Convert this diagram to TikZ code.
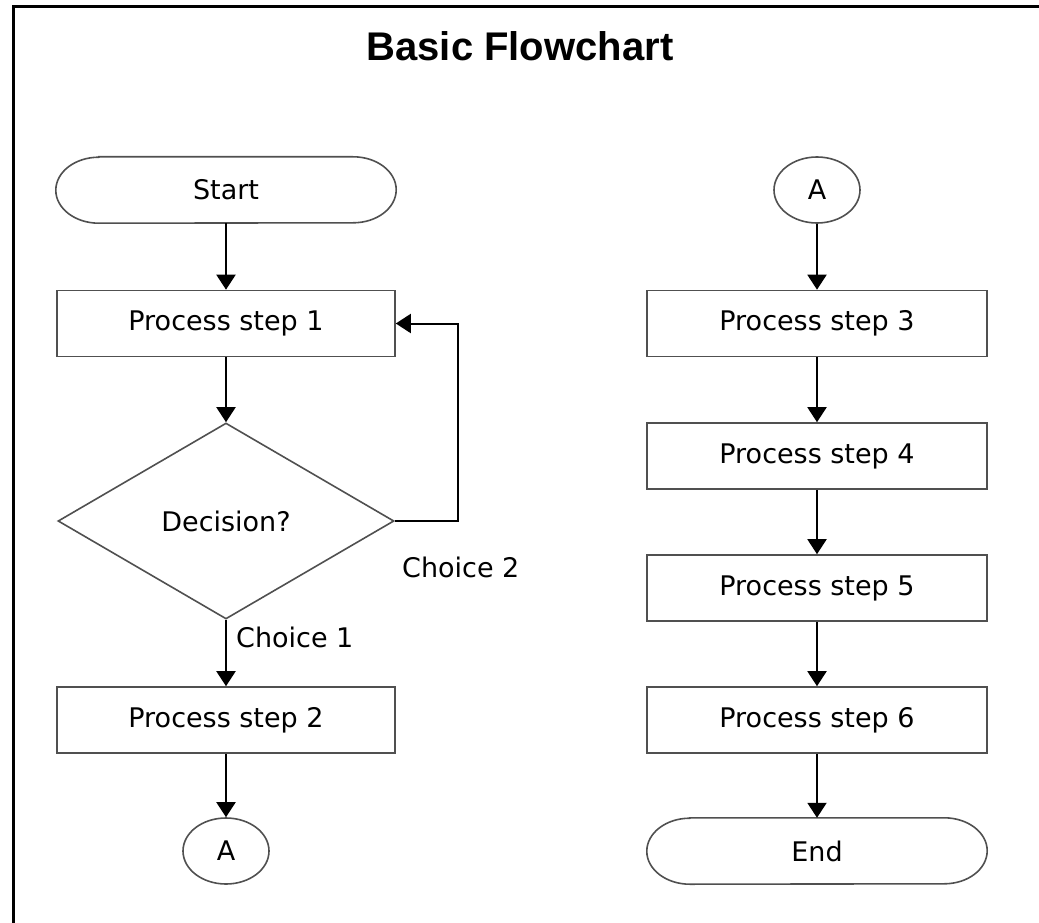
\documentclass[tikz,border=0pt]{standalone}
\usepackage{fontspec}
\setmainfont{DejaVu Sans}
\newfontfamily\titlefont{Liberation Sans}
\usetikzlibrary{shapes.geometric,arrows.meta}

\definecolor{shapegray}{HTML}{505050}

\tikzset{
  txt/.style={font=\fontsize{27}{31}\selectfont, text=black},
  box/.style={txt, draw=shapegray, line width=1.6pt, minimum width=338pt, minimum height=66pt, inner sep=0pt},
  terminal/.style={txt, minimum width=340pt, minimum height=66pt, inner sep=0pt},
  outline/.style={draw=shapegray, line width=1.6pt},
  connector/.style={txt, ellipse, draw=shapegray, line width=1.6pt, minimum width=86pt, minimum height=66pt, inner sep=0pt},
  decision/.style={txt, diamond, draw=shapegray, line width=1.6pt, minimum width=336pt, minimum height=196pt, inner sep=0pt},
  choice/.style={txt, anchor=west, inner sep=0pt},
  flow/.style={line width=2pt, -{Triangle[width=19pt,length=15pt]}}
}

\begin{document}
\begin{tikzpicture}[x=1pt, y=-1pt]
        \useasboundingbox (0, 0) rectangle (1039, 923);
        \draw[line width=3pt] (13, 923) -- (13, 7) -- (1039, 7);

        \node[font=\titlefont\bfseries\fontsize{40}{44}\selectfont] (heading) at (520, 46) {Basic Flowchart};

        \node[terminal] (start) at (226, 190) {Start};
        \node[box] (step1) at (226, 323.5) {Process step 1};
        \node[decision] (decision) at (226, 521) {Decision?};
        \node[box] (step2) at (226, 720) {Process step 2};
        \node[connector] (outA) at (226, 851) {A};

        \node[connector] (inA) at (817, 190) {A};
        \node[box, minimum width=340pt] (step3) at (817, 323.5) {Process step 3};
        \node[box, minimum width=340pt] (step4) at (817, 456) {Process step 4};
        \node[box, minimum width=340pt] (step5) at (817, 588) {Process step 5};
        \node[box, minimum width=340pt] (step6) at (817, 720) {Process step 6};
        \node[terminal] (finish) at (817, 851) {End};

        \node[choice] (choice1) at (236, 637) {Choice 1};
        \node[choice] (choice2) at (402, 567) {Choice 2};

        \foreach \t in {start, finish}
            \draw[outline] ([xshift=43pt]\t.north west) -- ([xshift=-43pt]\t.north east)
                arc[start angle=90, end angle=-90, x radius=43pt, y radius=33pt]
                -- ([xshift=43pt]\t.south west)
                arc[start angle=270, end angle=90, x radius=43pt, y radius=33pt] -- cycle;

        \draw[flow] (start.south) -- (step1.north);
        \draw[flow] (step1.south) -- (decision.north);
        \draw[flow] (decision.south) -- (step2.north);
        \draw[flow] (step2.south) -- (outA.north);
        \draw[flow] (decision.east) -- ++(63, 0) |- (step1.east);

        \draw[flow] (inA.south) -- (step3.north);
        \draw[flow] (step3.south) -- (step4.north);
        \draw[flow] (step4.south) -- (step5.north);
        \draw[flow] (step5.south) -- (step6.north);
        \draw[flow] (step6.south) -- (finish.north);
    \end{tikzpicture}
\end{document}
